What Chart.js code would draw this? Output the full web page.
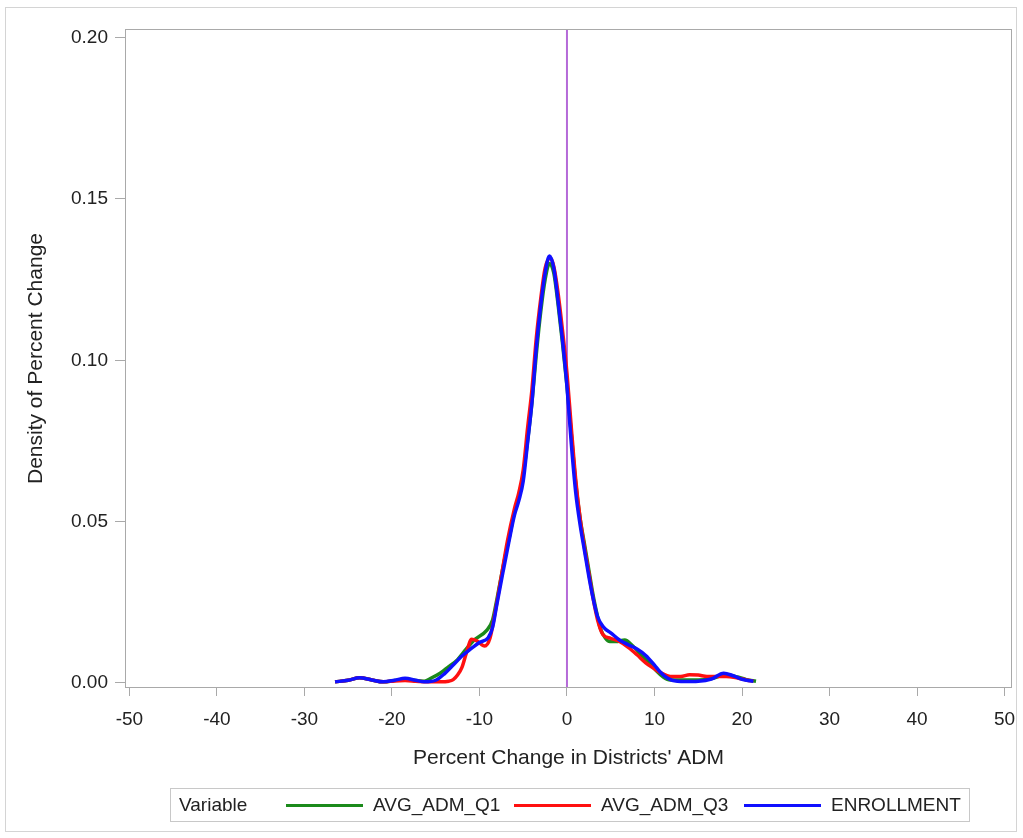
<!DOCTYPE html>
<html><head><meta charset="utf-8">
<script src="https://cdn.jsdelivr.net/npm/chart.js@4/dist/chart.umd.min.js"></script>
<style>
html,body{margin:0;padding:0;background:#fff;}
#wrap{position:relative;width:1023px;height:838px;overflow:hidden;}
#c{position:absolute;left:0;top:0;}
#outer{position:absolute;left:5px;top:7px;width:1012px;height:825px;border:1px solid #d4d4d4;box-sizing:border-box;pointer-events:none;}
#legend{position:absolute;left:170px;top:788px;width:800px;height:34px;box-sizing:border-box;border:1px solid #c8c8c8;font-family:"Liberation Sans",Arial,sans-serif;font-size:19px;color:#222;}
#legend span{position:absolute;top:0;line-height:32px;white-space:nowrap;}
#legend i{position:absolute;top:15px;height:3px;display:block;}
</style></head>
<body>
<div id="wrap">
<canvas id="c" width="1023" height="838"></canvas>
<div id="outer"></div>
<div id="legend"></div>
</div>
<script>
// ---- data ----
const seriesNames = ["AVG_ADM_Q1", "AVG_ADM_Q3", "ENROLLMENT"];
const seriesColors = ["#1b8a1b", "#ff1010", "#1010ff"];
const legendTitle = "Variable";
const xTitle = "Percent Change in Districts' ADM";
const yTitle = "Density of Percent Change";
const xTicks = [-50, -40, -30, -20, -10, 0, 10, 20, 30, 40, 50];
const yTicks = [0.00, 0.05, 0.10, 0.15, 0.20];
const refLines = [0];

const q1X = [-26.5,-25,-23.7,-22.3,-21,-19.7,-18.5,-17.3,-16.3,-15.5,-14.5,-13.5,-12.5,-11.5,-10.5,-9.2,-8.5,-8,-7.3,-6.6,-6,-5.5,-5,-4.5,-4,-3.5,-3,-2.5,-2,-1.5,-1,-0.5,0,0.5,1,1.5,2,2.5,3,3.5,3.8,4.4,4.9,5.6,6.6,7.5,8.7,9.5,10.3,11,11.8,13,15,16.5,18.2,19.5,20.5,21.6];
const q1Y = [0.0003,0.0008,0.0016,0.0009,0.0003,0.0007,0.0012,0.0007,0.0005,0.0015,0.003,0.005,0.0072,0.0105,0.0135,0.0162,0.0195,0.026,0.036,0.045,0.053,0.058,0.0645,0.075,0.087,0.102,0.115,0.125,0.130,0.127,0.117,0.105,0.092,0.077,0.062,0.051,0.043,0.035,0.027,0.0205,0.017,0.0138,0.0128,0.0128,0.0133,0.0115,0.0081,0.006,0.0035,0.0018,0.0009,0.0009,0.0009,0.0013,0.0025,0.0018,0.001,0.0005];

const q3X = [-26.5,-25,-23.7,-22.3,-21,-19.7,-18.5,-17.3,-16,-14.5,-13.5,-13,-12.5,-12,-11.5,-10.9,-10.3,-9.4,-8.8,-8.2,-7.5,-6.8,-6,-5.5,-5,-4.5,-4,-3.5,-3,-2.5,-1.9,-1.5,-1,-0.5,0,0.5,1,1.5,2,2.5,3,3.5,4.1,5,6,7,8,9,9.9,10.8,11.8,13,14,15,16,17,18.2,19.5,20.5,21.3];
const q3Y = [0.0003,0.0008,0.0016,0.0009,0.0003,0.0006,0.0007,0.0005,0.0003,0.0003,0.0005,0.001,0.0024,0.0048,0.0092,0.0135,0.013,0.0114,0.0138,0.022,0.033,0.044,0.054,0.059,0.066,0.079,0.091,0.107,0.119,0.1285,0.1317,0.129,0.1205,0.109,0.096,0.079,0.063,0.051,0.042,0.034,0.026,0.0195,0.015,0.0138,0.0128,0.011,0.0087,0.0062,0.0045,0.003,0.002,0.002,0.0025,0.0024,0.002,0.002,0.002,0.0015,0.0009,0.0005];

const enrX = [-26.5,-25,-23.7,-22.3,-21,-19.7,-18.5,-17.3,-16.3,-15,-14,-13,-12,-11,-10,-9,-8.5,-8,-7.3,-6.6,-6,-5.5,-5,-4.5,-4,-3.5,-3,-2.5,-2,-1.5,-1,-0.5,0,0.5,1,1.5,2,2.5,3,3.5,4.2,5,6,7,8,9,10,10.6,11.2,12,13.5,15,16.5,17.9,19,20,21.3];
const enrY = [0.0003,0.0008,0.0016,0.0009,0.0003,0.0008,0.0014,0.0008,0.0003,0.0008,0.0028,0.0055,0.0083,0.0105,0.0125,0.014,0.0172,0.0245,0.0345,0.0442,0.052,0.0565,0.0625,0.0745,0.087,0.104,0.117,0.127,0.1323,0.1285,0.118,0.106,0.092,0.074,0.059,0.049,0.041,0.033,0.026,0.0205,0.0172,0.0155,0.0133,0.0118,0.0105,0.0085,0.0055,0.0035,0.002,0.0008,0.0004,0.0005,0.0012,0.003,0.0022,0.0011,0.0005];

const seriesX = [q1X, q3X, enrX];
const seriesY = [q1Y, q3Y, enrY];

// ---- chart ----
const FONT = '"Liberation Sans", Arial, sans-serif';
const frameColor = '#a9a9a9';
const refColor = '#b56ad8';

const framePlugin = {
  id: 'frame',
  beforeDatasetsDraw(chart) {
    const {ctx, chartArea: a, scales: {x}} = chart;
    ctx.save();
    ctx.strokeStyle = refColor;
    ctx.lineWidth = 2;
    refLines.forEach(v => {
      const px = x.getPixelForValue(v);
      ctx.beginPath(); ctx.moveTo(px, a.top); ctx.lineTo(px, a.bottom); ctx.stroke();
    });
    ctx.strokeStyle = frameColor;
    ctx.lineWidth = 1;
    ctx.strokeRect(a.left + 0.5, a.top + 0.5, a.right - a.left - 1, a.bottom - a.top - 1);
    ctx.restore();
  }
};

const datasets = seriesNames.map((name, i) => ({
  label: name,
  data: seriesX[i].map((xv, j) => ({x: xv, y: seriesY[i][j]})),
  borderColor: seriesColors[i],
  backgroundColor: seriesColors[i],
  borderWidth: 3.5,
  pointRadius: 0,
  fill: false,
  order: seriesNames.length - i,
  cubicInterpolationMode: 'monotone'
}));

new Chart(document.getElementById('c'), {
  type: 'line',
  data: {datasets},
  options: {
    responsive: false,
    animation: false,
    layout: {padding: {left: 0, top: 29, right: 11, bottom: 0}},
    plugins: {legend: {display: false}, tooltip: {enabled: false}},
    scales: {
      x: {
        type: 'linear', min: -50.5, max: 50.85,
        afterBuildTicks: s => { s.ticks = xTicks.map(v => ({value: v})); },
        afterFit: s => { s.height = 150; s.paddingLeft = 0; s.paddingRight = 0; },
        border: {display: false},
        grid: {display: true, drawOnChartArea: false, drawTicks: true, tickLength: 8, color: frameColor},
        ticks: {color: '#222', font: {family: FONT, size: 19}, padding: 12, maxRotation: 0, autoSkip: false,
                callback: v => String(v)},
        title: {display: true, text: xTitle, color: '#222', font: {family: FONT, size: 21}, padding: {top: 0, bottom: 67}}
      },
      y: {
        type: 'linear', min: -0.0016, max: 0.2027,
        afterBuildTicks: s => { s.ticks = yTicks.map(v => ({value: v})); },
        afterFit: s => { s.width = 125; s.paddingTop = 0; s.paddingBottom = 0; },
        border: {display: false},
        grid: {display: true, drawOnChartArea: false, drawTicks: true, tickLength: 10, color: frameColor},
        ticks: {color: '#222', font: {family: FONT, size: 19}, padding: 7, autoSkip: false,
                callback: v => Number(v).toFixed(2)},
        title: {display: true, text: yTitle, color: '#222', font: {family: FONT, size: 21}, padding: {top: 24, bottom: 0}}
      }
    }
  },
  plugins: [framePlugin]
});

// ---- legend (HTML) ----
const lg = document.getElementById('legend');
const t = document.createElement('span'); t.textContent = legendTitle; t.style.left = '8px'; lg.appendChild(t);
const lineLefts = [115, 343, 573];
seriesNames.forEach((name, i) => {
  const ln = document.createElement('i');
  ln.style.left = lineLefts[i] + 'px'; ln.style.width = '77px'; ln.style.background = seriesColors[i];
  lg.appendChild(ln);
  const s = document.createElement('span');
  s.textContent = name; s.style.left = (lineLefts[i] + 87) + 'px';
  lg.appendChild(s);
});
</script>
</body></html>
